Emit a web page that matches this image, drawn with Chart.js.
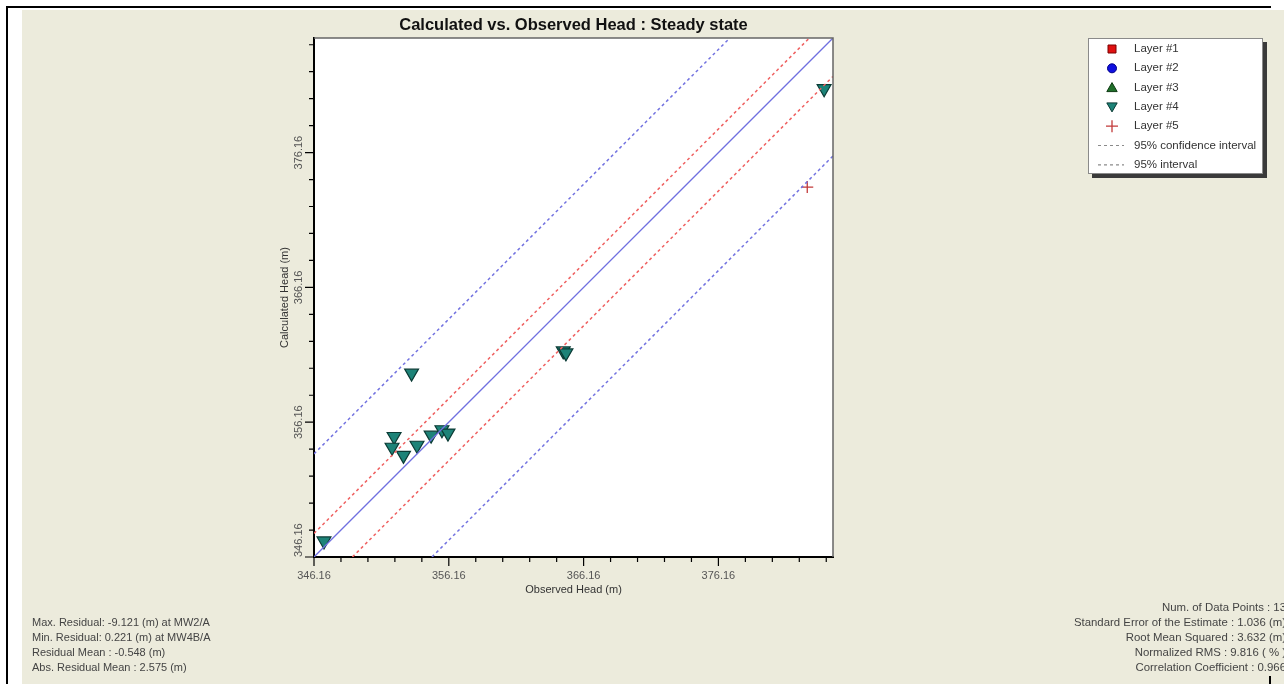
<!DOCTYPE html>
<html>
<head>
<meta charset="utf-8">
<script src="https://cdn.jsdelivr.net/npm/chart.js@4.4.1/dist/chart.umd.min.js"></script>
<style>
  html, body { margin: 0; padding: 0; background: #fff; overflow: hidden; }
  #page { position: relative; width: 1284px; height: 684px; overflow: hidden; background: #fff; }
  #frameTop { position: absolute; left: 6px; top: 6px; width: 1265px; height: 2px; background: #000; }
  #frameLeft { position: absolute; left: 6px; top: 6px; width: 2px; height: 678px; background: #000; }
  #frameMark { position: absolute; left: 1269px; top: 676px; width: 2px; height: 8px; background: #000; }
  #paper { position: absolute; left: 22px; top: 10px; right: 0; bottom: 0; background: #ecebdc; }
  #chart { position: absolute; left: 0; top: 0; }
  .stats { position: absolute; font: 11px "Liberation Sans", Arial, sans-serif; color: #444; line-height: 15px; white-space: nowrap; }
  #statsLeft { left: 32px; top: 615px; }
  #statsRight { right: -2px; top: 600px; text-align: right; font-size: 11.4px; }
</style>
</head>
<body>
<div id="page">
  <div id="paper"></div>
  <div id="frameTop"></div>
  <div id="frameLeft"></div>
  <div id="frameMark"></div>
  <canvas id="chart" width="1284" height="684"></canvas>
  <div class="stats" id="statsLeft"></div>
  <div class="stats" id="statsRight"></div>
</div>
<script>
const FONT = '"Liberation Sans", Arial, sans-serif';

const chartTitle = 'Calculated vs. Observed Head : Steady state';
const xTitle = 'Observed Head (m)';
const yTitle = 'Calculated Head (m)';

// axes
const axisMin = 346.16, axisMax = 384.66;
const xTickLabels = [346.16, 356.16, 366.16, 376.16];
const yTickLabels = [346.16, 356.16, 366.16, 376.16];
const minorStep = 2;

// observation wells
const layer4Observed   = [346.9, 353.4, 352.1, 351.95, 352.8, 353.8, 354.85, 355.65, 356.1, 364.65, 364.85, 384.0];
const layer4Calculated = [347.35, 359.8, 355.1, 354.3, 353.7, 354.45, 355.2, 355.6, 355.35, 361.45, 361.3, 380.9];
const layer5Observed   = [382.75];
const layer5Calculated = [373.6];

// reference lines (end points)
const lineObserved        = [346.16, 384.66];
const lineCalculated      = [346.16, 384.66];
const confUpperObserved   = [346.16, 382.91];
const confUpperCalculated = [347.91, 384.66];
const confLowerObserved   = [349.01, 384.66];
const confLowerCalculated = [346.16, 381.81];
const intUpperObserved    = [346.16, 377.01];
const intUpperCalculated  = [353.81, 384.66];
const intLowerObserved    = [354.91, 384.66];
const intLowerCalculated  = [346.16, 375.91];

const statsLeft = [
  'Max. Residual: -9.121 (m) at MW2/A',
  'Min. Residual: 0.221 (m) at MW4B/A',
  'Residual Mean : -0.548 (m)',
  'Abs. Residual Mean : 2.575 (m)'
];
const statsRight = [
  'Num. of Data Points : 13',
  'Standard Error of the Estimate : 1.036 (m)',
  'Root Mean Squared : 3.632 (m)',
  'Normalized RMS : 9.816 ( % )',
  'Correlation Coefficient : 0.966'
];

document.getElementById('statsLeft').innerHTML = statsLeft.join('<br>');
document.getElementById('statsRight').innerHTML = statsRight.join('<br>');

const zip = (xs, ys) => xs.map((x, i) => ({ x, y: ys[i] }));

function drawMarker(c, style, x, y, r, flip) {
  c.beginPath();
  if (style === 'rect') {
    c.rect(x - r, y - r, 2 * r, 2 * r);
  } else if (style === 'circle') {
    c.arc(x, y, r, 0, Math.PI * 2);
  } else if (style === 'triangle') {
    const s = flip ? -1 : 1;
    c.moveTo(x, y - s * r);
    c.lineTo(x + r * 0.866, y + s * r / 2);
    c.lineTo(x - r * 0.866, y + s * r / 2);
    c.closePath();
  } else if (style === 'cross') {
    c.moveTo(x - r, y); c.lineTo(x + r, y);
    c.moveTo(x, y - r); c.lineTo(x, y + r);
    c.stroke();
    return;
  }
  c.fill();
  c.stroke();
}

const lineBase = { showLine: true, pointRadius: 0, fill: false };

const datasets = [
  { label: 'Layer #1', data: [], pointStyle: 'rect', backgroundColor: '#e01010', borderColor: '#7a0000', inLegend: true },
  { label: 'Layer #2', data: [], pointStyle: 'circle', backgroundColor: '#1010e0', borderColor: '#00008a', inLegend: true },
  { label: 'Layer #3', data: [], pointStyle: 'triangle', backgroundColor: '#1f6f2a', borderColor: '#0e3a12', inLegend: true },
  { ...lineBase, label: '1:1', data: zip(lineObserved, lineCalculated), borderColor: '#7070e0', borderWidth: 1.3 },
  { ...lineBase, label: '95% confidence interval', data: zip(confUpperObserved, confUpperCalculated), borderColor: '#ef6060', borderWidth: 1.5, borderDash: [3, 3], inLegend: true },
  { ...lineBase, label: '95% confidence interval', data: zip(confLowerObserved, confLowerCalculated), borderColor: '#ef6060', borderWidth: 1.5, borderDash: [3, 3] },
  { ...lineBase, label: '95% interval', data: zip(intUpperObserved, intUpperCalculated), borderColor: '#7272e0', borderWidth: 1.5, borderDash: [3, 3] },
  { ...lineBase, label: '95% interval', data: zip(intLowerObserved, intLowerCalculated), borderColor: '#7272e0', borderWidth: 1.5, borderDash: [3, 3], inLegend: true },
  { label: 'Layer #4', data: zip(layer4Observed, layer4Calculated), pointStyle: 'triangle', rotation: 180, pointRadius: 8, borderWidth: 1.2, backgroundColor: '#1d8378', borderColor: '#0b3b35', inLegend: true },
  { label: 'Layer #5', data: zip(layer5Observed, layer5Calculated), pointStyle: 'cross', pointRadius: 6, borderWidth: 1.3, borderColor: '#c23a3a', backgroundColor: '#c23a3a', inLegend: true }
];

// white plotting area
const areaPlugin = {
  id: 'areaPlugin',
  beforeDraw(chart) {
    const c = chart.ctx, a = chart.chartArea;
    c.save();
    c.fillStyle = '#fff';
    c.fillRect(a.left, a.top, a.right - a.left, a.bottom - a.top);
    c.restore();
  }
};

// frame, tick marks and y labels
const axisPlugin = {
  id: 'axisPlugin',
  afterDraw(chart) {
    const c = chart.ctx, a = chart.chartArea;
    const xs = chart.scales.x, ys = chart.scales.y;
    c.save();
    c.strokeStyle = '#666';
    c.lineWidth = 1.5;
    c.beginPath();
    c.moveTo(a.left, a.top); c.lineTo(a.right, a.top); c.lineTo(a.right, a.bottom);
    c.stroke();

    c.strokeStyle = '#000';
    c.lineWidth = 1.2;
    c.beginPath();
    for (let v = axisMin; v <= axisMax + 1e-6; v += minorStep) {
      const major = xTickLabels.some(t => Math.abs(t - v) < 1e-6);
      const len = major ? 9 : 5;
      const px = xs.getPixelForValue(v);
      c.moveTo(px, a.bottom); c.lineTo(px, a.bottom + len);
      const py = ys.getPixelForValue(v);
      c.moveTo(a.left - len, py); c.lineTo(a.left, py);
    }
    c.stroke();

    c.fillStyle = '#555';
    c.font = '11px ' + FONT;
    c.textAlign = 'center';
    c.textBaseline = 'middle';
    yTickLabels.forEach(v => {
      const txt = v.toFixed(2);
      const w = c.measureText(txt).width;
      const py = Math.min(ys.getPixelForValue(v), a.bottom - w / 2);
      c.save();
      c.translate(299, py);
      c.rotate(-Math.PI / 2);
      c.fillText(txt, 0, 0);
      c.restore();
    });
    c.restore();
  }
};

// boxed legend on the right
const legendPlugin = {
  id: 'boxLegend',
  afterDraw(chart) {
    const c = chart.ctx;
    const bx = 1088, by = 38, bw = 175, bh = 136;
    c.save();
    c.fillStyle = '#3a3a3a';
    c.fillRect(bx + 4, by + 4, bw, bh);
    c.fillStyle = '#fff';
    c.fillRect(bx, by, bw, bh);
    c.strokeStyle = '#8a8a8a';
    c.lineWidth = 1;
    c.strokeRect(bx + 0.5, by + 0.5, bw - 1, bh - 1);

    const items = chart.data.datasets.filter(d => d.inLegend);
    const order = ['Layer #1', 'Layer #2', 'Layer #3', 'Layer #4', 'Layer #5', '95% confidence interval', '95% interval'];
    items.sort((p, q) => order.indexOf(p.label) - order.indexOf(q.label));
    c.font = '11.5px ' + FONT;
    c.textBaseline = 'middle';
    items.forEach((d, i) => {
      const y = by + 11 + i * 19.3;
      const mx = 1112;
      if (d.showLine) {
        c.strokeStyle = '#8a8a8a';
        c.lineWidth = 1.2;
        c.setLineDash([3, 3]);
        c.beginPath(); c.moveTo(1098, y); c.lineTo(1124, y); c.stroke();
        c.setLineDash([]);
      } else {
        c.fillStyle = d.backgroundColor;
        c.strokeStyle = d.borderColor;
        c.lineWidth = d.pointStyle === 'cross' ? 1.3 : 1;
        const r = d.pointStyle === 'rect' ? 4 : d.pointStyle === 'circle' ? 4.5 : 6;
        drawMarker(c, d.pointStyle, mx, d.pointStyle === 'triangle' ? y + (d.rotation ? -1 : 1) : y, r, !!d.rotation);
      }
      c.fillStyle = '#333';
      c.fillText(d.label, 1134, y);
    });
    c.restore();
  }
};

const ctx = document.getElementById('chart').getContext('2d');
new Chart(ctx, {
  type: 'scatter',
  data: { datasets },
  options: {
    responsive: false,
    animation: false,
    events: [],
    layout: { padding: { left: 274, right: 451, top: 0.2, bottom: 84 } },
    plugins: {
      legend: { display: false },
      tooltip: { enabled: false },
      title: {
        display: true, text: chartTitle, fullSize: false, color: '#111',
        font: { family: FONT, size: 16.5, weight: 'bold', lineHeight: 1.2 },
        padding: { top: 15, bottom: 3 }
      }
    },
    scales: {
      x: {
        type: 'linear', min: axisMin, max: axisMax,
        grid: { display: false, drawTicks: false },
        border: { display: true, color: '#000', width: 2 },
        ticks: { color: '#555', font: { family: FONT, size: 11 }, padding: 12, maxRotation: 0, autoSkip: false, callback: v => Number(v).toFixed(2) },
        afterBuildTicks: s => { s.ticks = xTickLabels.map(v => ({ value: v })); },
        afterFit: s => { s.height = 43; },
        title: { display: true, text: xTitle, color: '#333', font: { family: FONT, size: 11 }, padding: { top: 0, bottom: 3 } }
      },
      y: {
        type: 'linear', min: axisMin, max: axisMax,
        grid: { display: false, drawTicks: false },
        border: { display: true, color: '#000', width: 2 },
        ticks: { display: false },
        afterBuildTicks: s => { s.ticks = yTickLabels.map(v => ({ value: v })); },
        afterFit: s => { s.width = 40; },
        title: { display: true, text: yTitle, color: '#333', font: { family: FONT, size: 11 }, padding: { top: 4, bottom: 0 } }
      }
    }
  },
  plugins: [areaPlugin, axisPlugin, legendPlugin]
});
</script>
</body>
</html>
